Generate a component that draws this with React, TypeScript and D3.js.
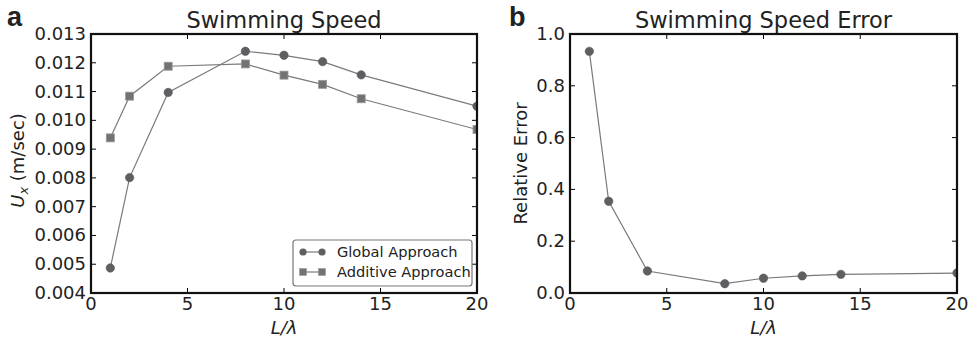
import * as d3 from 'd3';

const lengths = [1, 2, 4, 8, 10, 12, 14, 20];
const globalSpeed = [0.00487, 0.00801, 0.01097, 0.0124, 0.01226, 0.01204, 0.01158, 0.01049];
const additiveSpeed = [0.00939, 0.01084, 0.01188, 0.01196, 0.01157, 0.01125, 0.01075, 0.00968];
const relError = [0.933, 0.354, 0.085, 0.036, 0.057, 0.066, 0.072, 0.077];

const xTicks = [0, 5, 10, 15, 20];
const speedTicks = [0.004, 0.005, 0.006, 0.007, 0.008, 0.009, 0.01, 0.011, 0.012, 0.013];
const errTicks = [0, 0.2, 0.4, 0.6, 0.8, 1.0];
const legendItems = ['Global Approach', 'Additive Approach'];

const FONT = 'DejaVu Sans, sans-serif';
const TOP = 34;
const BOTTOM = 293;

function Frame({ x0, x1, xs, ys, yTicks, fmt }: any) {
  const tl = 5;
  return (
    <g>
      {xTicks.map(t => (
        <g key={'x' + t}>
          <line x1={xs(t)} x2={xs(t)} y1={BOTTOM} y2={BOTTOM - tl} stroke="#000" />
          <line x1={xs(t)} x2={xs(t)} y1={TOP} y2={TOP + tl} stroke="#000" />
          <text x={xs(t)} y={BOTTOM + 17} textAnchor="middle" fontSize={18} fill="#222">{t}</text>
        </g>
      ))}
      {yTicks.map((t: number) => (
        <g key={'y' + t}>
          <line x1={x0} x2={x0 + tl} y1={ys(t)} y2={ys(t)} stroke="#000" />
          <line x1={x1} x2={x1 - tl} y1={ys(t)} y2={ys(t)} stroke="#000" />
          <text x={x0 - 5} y={ys(t) + 6} textAnchor="end" fontSize={18} fill="#222">{fmt(t)}</text>
        </g>
      ))}
      <rect x={x0} y={TOP} width={x1 - x0} height={BOTTOM - TOP} fill="none" stroke="#111" strokeWidth={2.2} />
      <text x={(x0 + x1) / 2} y={BOTTOM + 41} textAnchor="middle" fontSize={18} fill="#222" fontStyle="italic">L/λ</text>
    </g>
  );
}

export default function App() {
  const ax0 = 91, ax1 = 477;
  const bx0 = 570, bx1 = 957;
  const xa = d3.scaleLinear().domain([0, 20]).range([ax0, ax1]);
  const xb = d3.scaleLinear().domain([0, 20]).range([bx0, bx1]);
  const ya = d3.scaleLinear().domain([0.004, 0.013]).range([BOTTOM, TOP]);
  const yb = d3.scaleLinear().domain([0, 1]).range([BOTTOM, TOP]);

  const lineA = (vals: number[]) => d3.line<number>().x((_, i) => xa(lengths[i])).y(d => ya(d))(vals) || '';
  const lineB = d3.line<number>().x((_, i) => xb(lengths[i])).y(d => yb(d))(relError) || '';

  const circ = '#5f5f63';
  const sq = '#727272';
  const lineCol = '#7a7a7a';

  return (
    <svg width={969} height={339} style={{ position: 'absolute', left: 0, top: 0 }} fontFamily={FONT}>
      <rect width={969} height={339} fill="#fff" />
      <defs>
        <clipPath id="ca"><rect x={ax0} y={TOP} width={ax1 - ax0} height={BOTTOM - TOP} /></clipPath>
        <clipPath id="cb"><rect x={bx0} y={TOP} width={bx1 - bx0} height={BOTTOM - TOP} /></clipPath>
      </defs>

      {/* panel a */}
      <text x={7} y={26} fontSize={27} fontWeight="bold" fontFamily="Liberation Sans, Arial, sans-serif" fill="#222">a</text>
      <text x={(ax0 + ax1) / 2} y={28} textAnchor="middle" fontSize={22.5} fill="#222">Swimming Speed</text>
      <text transform={`translate(24,${(TOP + BOTTOM) / 2 - 3}) rotate(-90)`} textAnchor="middle" fontSize={18} fill="#222">
        <tspan fontStyle="italic">U</tspan><tspan fontStyle="italic" fontSize={13} dy={4}>x</tspan><tspan dy={-4}> (m/sec)</tspan>
      </text>
      <g clipPath="url(#ca)">
        <path d={lineA(globalSpeed)} fill="none" stroke={lineCol} strokeWidth={1.2} />
        <path d={lineA(additiveSpeed)} fill="none" stroke={lineCol} strokeWidth={1.2} />
        {globalSpeed.map((v, i) => (
          <circle key={'g' + i} cx={xa(lengths[i])} cy={ya(v)} r={4.2} fill={circ} stroke="#555" strokeWidth={0.6} />
        ))}
        {additiveSpeed.map((v, i) => (
          <rect key={'s' + i} x={xa(lengths[i]) - 4} y={ya(v) - 4} width={8} height={8} fill={sq} stroke="#999" strokeWidth={0.8} />
        ))}
      </g>
      <Frame x0={ax0} x1={ax1} xs={xa} ys={ya} yTicks={speedTicks} fmt={(t: number) => t.toFixed(3)} />
      <g>
        <rect x={293} y={240} width={179} height={46} rx={3} fill="#fff" stroke="#777" strokeWidth={1.2} />
        {legendItems.map((name, i) => {
          const cy = 252 + i * 20;
          return (
            <g key={name}>
              <line x1={303} x2={322} y1={cy} y2={cy} stroke={lineCol} strokeWidth={1.2} />
              {i === 0 ? (
                <>
                  <circle cx={303} cy={cy} r={3.6} fill={circ} />
                  <circle cx={322} cy={cy} r={3.6} fill={circ} />
                </>
              ) : (
                <>
                  <rect x={299.5} y={cy - 3.5} width={7} height={7} fill={sq} stroke="#999" strokeWidth={0.6} />
                  <rect x={318.5} y={cy - 3.5} width={7} height={7} fill={sq} stroke="#999" strokeWidth={0.6} />
                </>
              )}
              <text x={337} y={cy + 5} fontSize={14.6} fill="#222">{name}</text>
            </g>
          );
        })}
      </g>

      {/* panel b */}
      <text x={509} y={26} fontSize={27} fontWeight="bold" fontFamily="Liberation Sans, Arial, sans-serif" fill="#222">b</text>
      <text x={(bx0 + bx1) / 2} y={28} textAnchor="middle" fontSize={22.5} fill="#222">Swimming Speed Error</text>
      <text transform={`translate(527,${(TOP + BOTTOM) / 2}) rotate(-90)`} textAnchor="middle" fontSize={18} fill="#222">Relative Error</text>
      <g clipPath="url(#cb)">
        <path d={lineB} fill="none" stroke={lineCol} strokeWidth={1.2} />
        {relError.map((v, i) => (
          <circle key={'e' + i} cx={xb(lengths[i])} cy={yb(v)} r={4.2} fill={circ} stroke="#555" strokeWidth={0.6} />
        ))}
      </g>
      <Frame x0={bx0} x1={bx1} xs={xb} ys={yb} yTicks={errTicks} fmt={(t: number) => t.toFixed(1)} />
    </svg>
  );
}
